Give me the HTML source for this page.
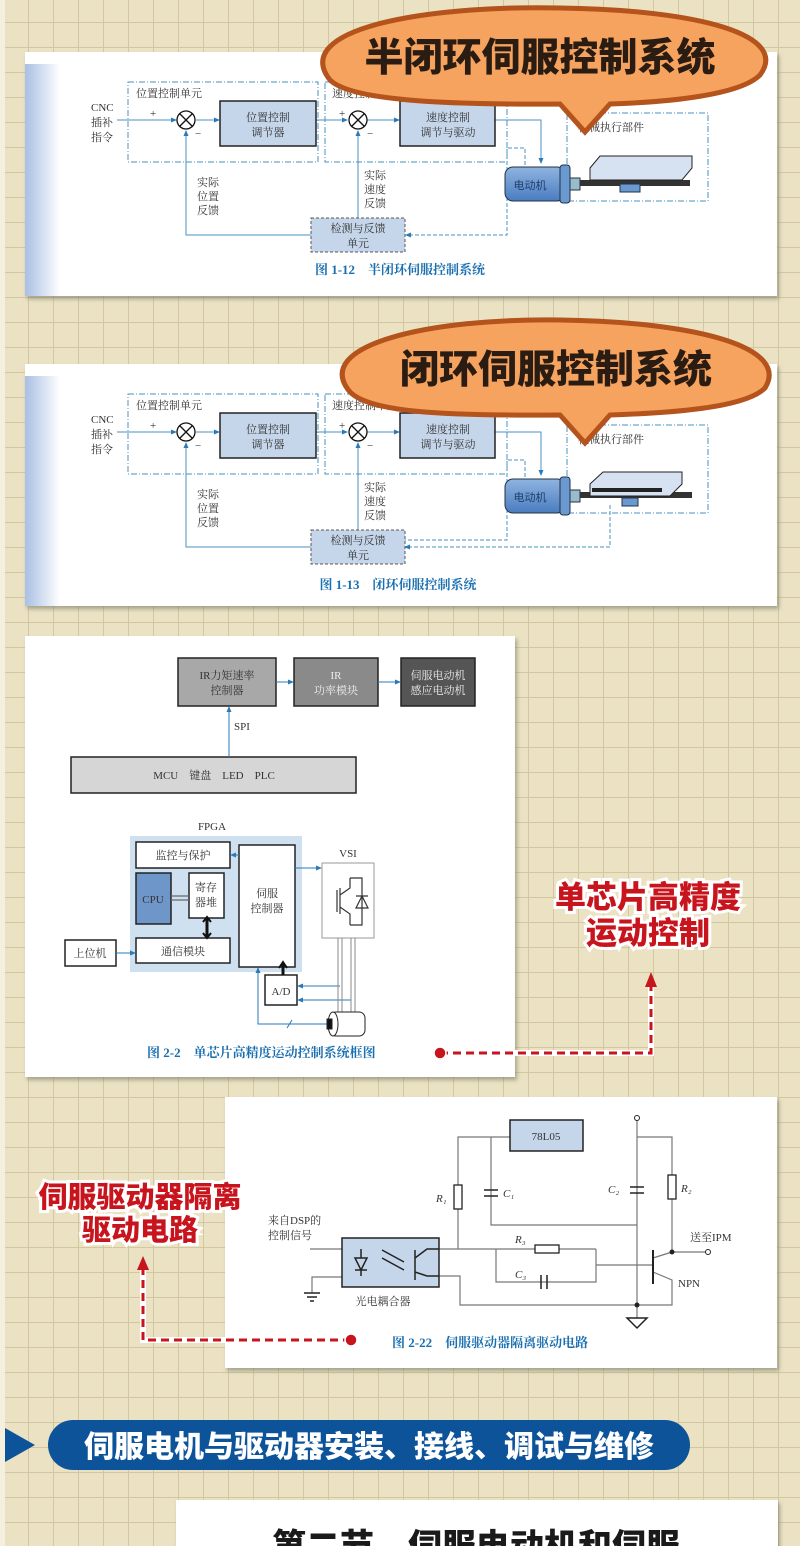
<!DOCTYPE html>
<html><head><meta charset="utf-8"><style>
html,body{margin:0;padding:0}
body{width:800px;height:1546px;overflow:hidden;background-color:#ebe2c3;
background-image:linear-gradient(to right,#d3c7a2 1px,transparent 1px),linear-gradient(to bottom,#d3c7a2 1px,transparent 1px);
background-size:25px 25px;background-position:3px 22px;}
svg{position:absolute;left:0;top:0}
.s{font-family:"Liberation Serif","Noto Serif CJK SC",serif;fill:#333}
.h{font-family:"Liberation Sans","Noto Sans CJK SC",sans-serif;font-weight:900}
.cap{font-weight:bold}
</style></head><body>
<svg width="800" height="1546" viewBox="0 0 800 1546">
<defs>
<linearGradient id="lg" x1="0" x2="1"><stop offset="0" stop-color="#a9bfe3"/><stop offset="1" stop-color="#fff"/></linearGradient>
<linearGradient id="mot" x1="0" y1="0" x2="0" y2="1"><stop offset="0" stop-color="#8fb4e0"/><stop offset="1" stop-color="#4a7cc0"/></linearGradient>
<filter id="sh"><feDropShadow dx="2" dy="3" stdDeviation="2" flood-color="#776" flood-opacity="0.6"/></filter>
<marker id="a" markerWidth="6" markerHeight="6" refX="5" refY="3" orient="auto"><path d="M0,0.5 L6,3 L0,5.5z" fill="#2a7ab8"/></marker>
</defs>
<rect x="0" y="0" width="5" height="1546" fill="#f4efdf"/>

<rect x="25" y="52" width="752" height="244" fill="#fff" filter="url(#sh)"/>
<rect x="25" y="64" width="35" height="232" fill="url(#lg)"/>
<rect x="25" y="364" width="752" height="242" fill="#fff" filter="url(#sh)"/>
<rect x="25" y="376" width="35" height="230" fill="url(#lg)"/>

<g stroke="#4a90c0" fill="none" stroke-width="1">
 <rect x="128" y="82" width="190" height="80" stroke-dasharray="6,2,1,2"/>
 <rect x="325" y="82" width="182" height="80" stroke-dasharray="6,2,1,2"/>
 <rect x="567" y="113" width="141" height="88" stroke-dasharray="6,2,1,2"/>
 <line x1="117" y1="120" x2="176" y2="120" marker-end="url(#a)"/>
 <line x1="196" y1="120" x2="219" y2="120" marker-end="url(#a)"/>
 <line x1="316" y1="120" x2="347" y2="120" marker-end="url(#a)"/>
 <line x1="367" y1="120" x2="399" y2="120" marker-end="url(#a)"/>
 <polyline points="495,120 541,120 541,163" marker-end="url(#a)"/>
 <polyline points="311,235 186,235 186,131" marker-end="url(#a)"/>
 <line x1="358" y1="218" x2="358" y2="131" marker-end="url(#a)"/>
 <polyline points="525,165 525,148 507,148 507,235 406,235" stroke-dasharray="4,2" marker-end="url(#a)"/>
 <rect x="128" y="394" width="190" height="80" stroke-dasharray="6,2,1,2"/>
 <rect x="325" y="394" width="182" height="80" stroke-dasharray="6,2,1,2"/>
 <rect x="567" y="425" width="141" height="88" stroke-dasharray="6,2,1,2"/>
 <line x1="117" y1="432" x2="176" y2="432" marker-end="url(#a)"/>
 <line x1="196" y1="432" x2="219" y2="432" marker-end="url(#a)"/>
 <line x1="316" y1="432" x2="347" y2="432" marker-end="url(#a)"/>
 <line x1="367" y1="432" x2="399" y2="432" marker-end="url(#a)"/>
 <polyline points="495,432 541,432 541,475" marker-end="url(#a)"/>
 <polyline points="311,547 186,547 186,443" marker-end="url(#a)"/>
 <line x1="358" y1="530" x2="358" y2="443" marker-end="url(#a)"/>
 <polyline points="525,477 525,460 507,460 507,540 405,540" stroke-dasharray="4,2"/>
 <polyline points="610,505 610,547 405,547" stroke-dasharray="4,2" marker-end="url(#a)"/>
</g>
<g stroke="#222" fill="#c6d6ea" stroke-width="1.5">
 <rect x="220" y="101" width="96" height="45"/><rect x="400" y="101" width="95" height="45"/>
 <rect x="220" y="413" width="96" height="45"/><rect x="400" y="413" width="95" height="45"/>
</g>
<g stroke="#555" fill="#c6d6ea" stroke-dasharray="3,2">
 <rect x="311" y="218" width="94" height="34"/><rect x="311" y="530" width="94" height="34"/>
</g>
<g stroke="#111" fill="#fff" stroke-width="1.3">
 <circle cx="186" cy="120" r="9"/><path d="M180,114 L192,126 M192,114 L180,126"/>
 <circle cx="358" cy="120" r="9"/><path d="M352,114 L364,126 M364,114 L352,126"/>
 <circle cx="186" cy="432" r="9"/><path d="M180,426 L192,438 M192,426 L180,438"/>
 <circle cx="358" cy="432" r="9"/><path d="M352,426 L364,438 M364,426 L352,438"/>
</g>
<g class="s" font-size="11">
 <text x="91" y="111">CNC</text><text x="91" y="126">插补</text><text x="91" y="141">指令</text>
 <text x="136" y="97">位置控制单元</text><text x="332" y="97">速度控制单元</text>
 <text x="150" y="117">+</text><text x="195" y="137">−</text><text x="339" y="117">+</text><text x="367" y="137">−</text>
 <text x="268" y="121" text-anchor="middle">位置控制</text><text x="268" y="136" text-anchor="middle">调节器</text>
 <text x="448" y="121" text-anchor="middle">速度控制</text><text x="448" y="136" text-anchor="middle">调节与驱动</text>
 <text x="197" y="186">实际</text><text x="197" y="200">位置</text><text x="197" y="214">反馈</text>
 <text x="364" y="179">实际</text><text x="364" y="193">速度</text><text x="364" y="207">反馈</text>
 <text x="358" y="232" text-anchor="middle">检测与反馈</text><text x="358" y="247" text-anchor="middle">单元</text>
 <text x="578" y="131">机械执行部件</text>
 <text x="91" y="423">CNC</text><text x="91" y="438">插补</text><text x="91" y="453">指令</text>
 <text x="136" y="409">位置控制单元</text><text x="332" y="409">速度控制单元</text>
 <text x="150" y="429">+</text><text x="195" y="449">−</text><text x="339" y="429">+</text><text x="367" y="449">−</text>
 <text x="268" y="433" text-anchor="middle">位置控制</text><text x="268" y="448" text-anchor="middle">调节器</text>
 <text x="448" y="433" text-anchor="middle">速度控制</text><text x="448" y="448" text-anchor="middle">调节与驱动</text>
 <text x="197" y="498">实际</text><text x="197" y="512">位置</text><text x="197" y="526">反馈</text>
 <text x="364" y="491">实际</text><text x="364" y="505">速度</text><text x="364" y="519">反馈</text>
 <text x="358" y="544" text-anchor="middle">检测与反馈</text><text x="358" y="559" text-anchor="middle">单元</text>
 <text x="578" y="443">机械执行部件</text>
</g>
<g>
 <rect x="505" y="167" width="60" height="34" rx="8" fill="url(#mot)" stroke="#234"/>
 <rect x="560" y="165" width="10" height="38" rx="3" fill="#6a98d0" stroke="#234"/>
 <rect x="570" y="178" width="10" height="12" fill="#9bc" stroke="#234"/>
 <rect x="580" y="180" width="110" height="6" fill="#333"/>
 <path d="M590,168 L600,156 L692,156 L692,168 L682,180 L590,180z" fill="#d6e2f2" stroke="#222"/>
 <rect x="620" y="184" width="20" height="8" fill="#6a98d0" stroke="#234"/>
 <text x="530" y="189" font-size="11" font-family="Liberation Sans,Noto Sans CJK SC,sans-serif" fill="#1f3f6a" text-anchor="middle">电动机</text>
</g>
<g>
 <rect x="505" y="479" width="60" height="34" rx="8" fill="url(#mot)" stroke="#234"/>
 <rect x="560" y="477" width="10" height="38" rx="3" fill="#6a98d0" stroke="#234"/>
 <rect x="570" y="490" width="10" height="12" fill="#9bc" stroke="#234"/>
 <rect x="580" y="492" width="112" height="6" fill="#333"/>
 <path d="M590,484 L603,472 L682,472 L682,484 L670,496 L590,496z" fill="#d6e2f2" stroke="#222"/>
 <rect x="592" y="488" width="70" height="4" fill="#222"/>
 <rect x="622" y="498" width="16" height="8" fill="#6a98d0" stroke="#234"/>
 <text x="530" y="501" font-size="11" font-family="Liberation Sans,Noto Sans CJK SC,sans-serif" fill="#1f3f6a" text-anchor="middle">电动机</text>
</g>
<g class="s cap" font-size="13">
 <text x="400" y="274" text-anchor="middle" style="fill:#1a6fb0">图 1-12　半闭环伺服控制系统</text>
 <text x="398" y="589" text-anchor="middle" style="fill:#1a6fb0">图 1-13　闭环伺服控制系统</text>
</g>
<g>
 <path d="M330,80 C290,30 420,5 560,8 C700,10 790,35 760,75 C740,95 670,102 610,104 L585,132 L560,104 C440,105 350,100 330,80z" fill="#f5a35e" stroke="#b4531c" stroke-width="5"/>
 <text x="540" y="71" class="h" font-size="39" fill="#2a1c12" text-anchor="middle">半闭环伺服控制系统</text>
 <path d="M350,392 C310,345 430,318 560,320 C700,322 790,348 765,388 C745,408 670,413 610,415 L585,443 L560,415 C440,416 370,412 350,392z" fill="#f5a35e" stroke="#b4531c" stroke-width="5"/>
 <text x="556" y="383" class="h" font-size="39" fill="#2a1c12" text-anchor="middle">闭环伺服控制系统</text>
</g>

<rect x="25" y="636" width="490" height="441" fill="#fff" filter="url(#sh)"/>
<g stroke="#222" stroke-width="1.5">
 <rect x="178" y="658" width="98" height="48" fill="#a8a8a8"/>
 <rect x="294" y="658" width="84" height="48" fill="#8a8a8a"/>
 <rect x="401" y="658" width="74" height="48" fill="#555"/>
 <rect x="71" y="757" width="285" height="36" fill="#d6d6d6"/>
</g>
<g stroke="#2a7ab8" fill="none">
 <line x1="276" y1="682" x2="293" y2="682" marker-end="url(#a)"/>
 <line x1="378" y1="682" x2="400" y2="682" marker-end="url(#a)"/>
 <line x1="229" y1="757" x2="229" y2="707" marker-end="url(#a)"/>
</g>
<g class="s" font-size="11">
 <text x="227" y="679" text-anchor="middle">IR力矩速率</text><text x="227" y="694" text-anchor="middle">控制器</text>
 <text x="336" y="679" text-anchor="middle" style="fill:#eee">IR</text><text x="336" y="694" text-anchor="middle" style="fill:#eee">功率模块</text>
 <text x="438" y="679" text-anchor="middle" style="fill:#eee">伺服电动机</text><text x="438" y="694" text-anchor="middle" style="fill:#eee">感应电动机</text>
 <text x="234" y="730">SPI</text>
 <text x="214" y="779" text-anchor="middle">MCU　键盘　LED　PLC</text>
 <text x="212" y="830" text-anchor="middle">FPGA</text>
 <text x="348" y="857" text-anchor="middle">VSI</text>
</g>
<rect x="130" y="836" width="172" height="136" fill="#cfe0f0"/>
<g stroke="#222" stroke-width="1.5" fill="#fff">
 <rect x="136" y="842" width="94" height="26"/>
 <rect x="239" y="845" width="56" height="122"/>
 <rect x="136" y="873" width="35" height="51" fill="#6f96c8"/>
 <rect x="189" y="873" width="35" height="45"/>
 <rect x="136" y="938" width="94" height="25"/>
 <rect x="65" y="940" width="51" height="26"/>
 <rect x="265" y="975" width="32" height="30"/>
</g>
<rect x="322" y="863" width="52" height="75" fill="#fff" stroke="#999"/>
<g stroke="#333" fill="none" stroke-width="1.2">
 <path d="M337,890 L337,912 M340,888 L340,914 M340,895 L350,888 L350,878 M340,907 L350,914 L350,925"/>
 <path d="M350,878 L362,878 L362,925 L350,925"/>
 <path d="M356,908 L368,908 L362,896z M356,896 L368,896"/>
 <path d="M171,896 L189,896 M171,900 L189,900" stroke="#666"/>
</g>
<path d="M207,918 L207,937" stroke="#111" stroke-width="3"/>
<path d="M203,922 L207,917 L211,922 M203,933 L207,938 L211,933" stroke="#111" stroke-width="2" fill="none"/>
<path d="M283,975 L283,963" stroke="#111" stroke-width="3"/>
<path d="M279,968 L283,962 L287,968" stroke="#111" stroke-width="2" fill="none"/>
<g stroke="#2a7ab8" fill="none">
 <line x1="116" y1="953" x2="135" y2="953" marker-end="url(#a)"/>
 <line x1="239" y1="855" x2="231" y2="855" marker-end="url(#a)"/>
 <line x1="295" y1="868" x2="321" y2="868" marker-end="url(#a)"/>
 <line x1="340" y1="986" x2="298" y2="986" marker-end="url(#a)"/>
 <line x1="351" y1="1000" x2="298" y2="1000" marker-end="url(#a)"/>
 <polyline points="330,1024 258,1024 258,968" marker-end="url(#a)"/>
 <line x1="287" y1="1028" x2="292" y2="1020"/>
</g>
<g stroke="#888" fill="none"><path d="M338,938 L338,1018 M342,938 L342,1018 M351,938 L351,1018 M355,938 L355,1018"/></g>
<g stroke="#222" fill="#fff">
 <rect x="330" y="1012" width="35" height="24" rx="6"/><ellipse cx="333" cy="1024" rx="5" ry="12"/>
 <rect x="327" y="1019" width="5" height="10" fill="#111"/>
</g>
<g class="s" font-size="11">
 <text x="183" y="859" text-anchor="middle">监控与保护</text>
 <text x="153" y="903" text-anchor="middle">CPU</text>
 <text x="206" y="891" text-anchor="middle">寄存</text><text x="206" y="906" text-anchor="middle">器堆</text>
 <text x="267" y="897" text-anchor="middle">伺服</text><text x="267" y="912" text-anchor="middle">控制器</text>
 <text x="183" y="955" text-anchor="middle">通信模块</text>
 <text x="90" y="957" text-anchor="middle">上位机</text>
 <text x="281" y="995" text-anchor="middle">A/D</text>
 <text x="147" y="1057" font-size="13" class="cap" style="fill:#1a6fb0">图 2-2　单芯片高精度运动控制系统框图</text>
</g>
<g>
 <path d="M440,1053 L651,1053 L651,983" stroke="#fff" stroke-width="6" fill="none"/>
 <path d="M440,1053 L651,1053 L651,983" stroke="#c8141c" stroke-width="3" fill="none" stroke-dasharray="8,5"/>
 <path d="M645,987 L651,972 L657,987z" fill="#c8141c"/>
 <circle cx="440" cy="1053" r="6" fill="#c8141c" stroke="#fff" stroke-width="1.5"/>
 <text x="648" y="908" class="h" font-size="31" fill="#c8141c" stroke="#fff" stroke-width="6" paint-order="stroke" text-anchor="middle">单芯片高精度</text>
 <text x="648" y="944" class="h" font-size="31" fill="#c8141c" stroke="#fff" stroke-width="6" paint-order="stroke" text-anchor="middle">运动控制</text>
</g>

<rect x="225" y="1097" width="552" height="271" fill="#fff" filter="url(#sh)"/>
<g stroke="#777" fill="none" stroke-width="1.2">
 <polyline points="458,1249 458,1137 510,1137"/>
 <polyline points="491,1137 491,1225 637,1225"/>
 <line x1="637" y1="1121" x2="637" y2="1318"/>
 <polyline points="637,1137 672,1137 672,1252 705,1252"/>
 <line x1="439" y1="1249" x2="596" y2="1249"/>
 <polyline points="496,1249 496,1282 596,1282 596,1249"/>
 <line x1="596" y1="1265" x2="653" y2="1265"/>
 <polyline points="653,1258 672,1252"/>
 <polyline points="653,1272 672,1280 672,1305 460,1305 460,1276 439,1276"/>
 <line x1="310" y1="1249" x2="342" y2="1249"/>
 <polyline points="342,1277 312,1277 312,1293"/>
</g>
<rect x="510" y="1120" width="73" height="31" fill="#c6d6ea" stroke="#222" stroke-width="1.5"/>
<rect x="342" y="1238" width="97" height="49" fill="#c6d6ea" stroke="#222" stroke-width="1.5"/>
<g stroke="#222" fill="#fff" stroke-width="1.3">
 <rect x="454" y="1185" width="8" height="24"/>
 <rect x="668" y="1175" width="8" height="24"/>
 <rect x="535" y="1245" width="24" height="8"/>
</g>
<g stroke="#222" stroke-width="1.5" fill="none">
 <path d="M484,1190 L498,1190 M484,1196 L498,1196"/>
 <path d="M630,1187 L644,1187 M630,1193 L644,1193"/>
 <path d="M541,1275 L541,1289 M547,1275 L547,1289"/>
 <path d="M653,1250 L653,1284" stroke-width="2"/>
 <path d="M355,1258 L367,1258 L361,1270z M355,1270 L367,1270 M361,1249 L361,1258 M361,1270 L361,1276"/>
 <path d="M415,1250 L415,1280 M415,1258 L427,1249 L439,1249 M415,1272 L427,1276 L439,1276"/>
 <path d="M382,1250 L404,1262 M382,1258 L404,1270"/>
 <path d="M304,1293 L320,1293 M307,1297 L317,1297 M310,1301 L314,1301"/>
 <path d="M627,1318 L647,1318 L637,1328z"/>
</g>
<circle cx="637" cy="1305" r="2.5" fill="#222"/><circle cx="672" cy="1252" r="2.5" fill="#222"/>
<circle cx="637" cy="1118" r="2.5" fill="#fff" stroke="#222"/><circle cx="708" cy="1252" r="2.5" fill="#fff" stroke="#222"/>
<g class="s" font-size="11">
 <text x="546" y="1140" text-anchor="middle">78L05</text>
 <text x="436" y="1202" font-style="italic">R₁</text><text x="503" y="1197" font-style="italic">C₁</text>
 <text x="608" y="1193" font-style="italic">C₂</text><text x="681" y="1192" font-style="italic">R₂</text>
 <text x="515" y="1243" font-style="italic">R₃</text><text x="515" y="1278" font-style="italic">C₃</text>
 <text x="268" y="1224">来自DSP的</text><text x="268" y="1239">控制信号</text>
 <text x="690" y="1241">送至IPM</text><text x="678" y="1287">NPN</text>
 <text x="383" y="1305" text-anchor="middle">光电耦合器</text>
 <text x="392" y="1347" font-size="13" class="cap" style="fill:#1a6fb0">图 2-22　伺服驱动器隔离驱动电路</text>
</g>
<g>
 <path d="M351,1340 L143,1340 L143,1266" stroke="#fff" stroke-width="6" fill="none"/>
 <path d="M351,1340 L143,1340 L143,1266" stroke="#c8141c" stroke-width="3" fill="none" stroke-dasharray="8,5"/>
 <path d="M137,1270 L143,1256 L149,1270z" fill="#c8141c"/>
 <circle cx="351" cy="1340" r="6" fill="#c8141c" stroke="#fff" stroke-width="1.5"/>
 <text x="140" y="1207" class="h" font-size="29" fill="#c8141c" stroke="#fff" stroke-width="6" paint-order="stroke" text-anchor="middle">伺服驱动器隔离</text>
 <text x="140" y="1240" class="h" font-size="29" fill="#c8141c" stroke="#fff" stroke-width="6" paint-order="stroke" text-anchor="middle">驱动电路</text>
</g>

<path d="M5,1428 L35,1445 L5,1462z" fill="#0d5399"/>
<rect x="48" y="1420" width="642" height="50" rx="25" fill="#0d5399"/>
<text x="369" y="1457" class="h" font-size="30" fill="#fff" text-anchor="middle">伺服电机与驱动器安装、接线、调试与维修</text>

<rect x="176" y="1500" width="602" height="60" fill="#fff" filter="url(#sh)"/>
<text x="476" y="1558" class="h" font-size="34" fill="#1a1a1a" text-anchor="middle">第二节　伺服电动机和伺服</text>
</svg>
</body></html>
